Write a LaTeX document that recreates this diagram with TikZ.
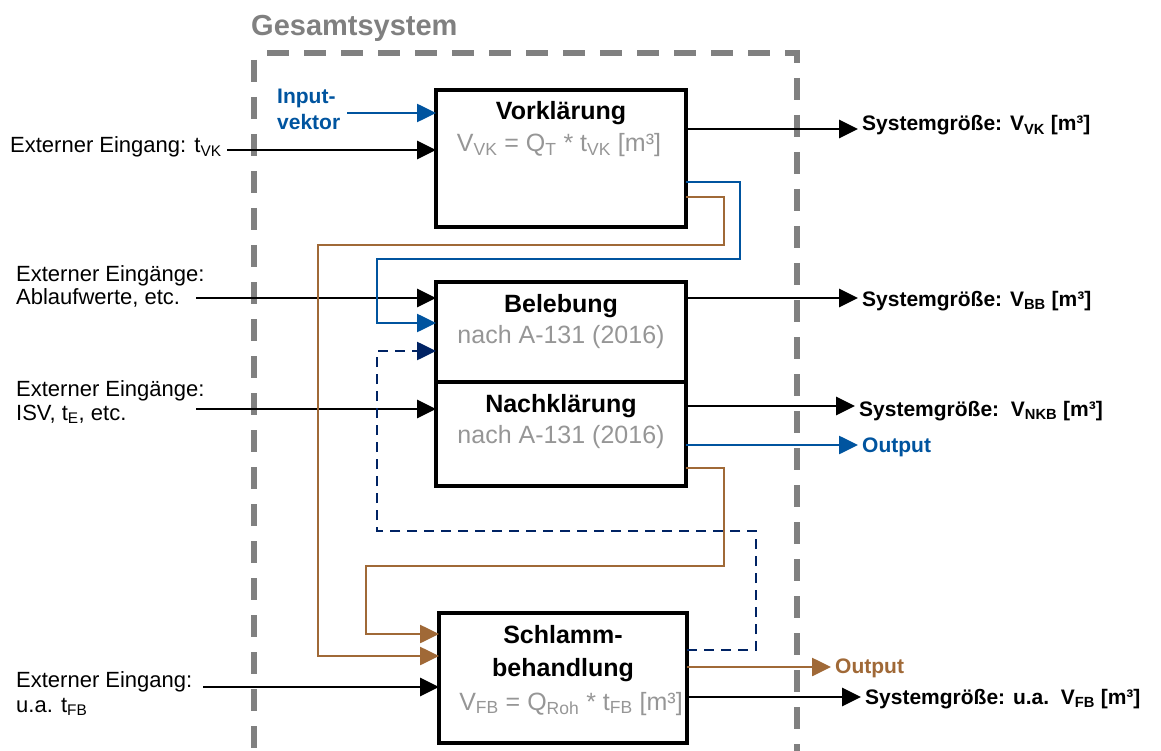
\documentclass[tikz,border=0pt]{standalone}
\usepackage{fontspec}
\setmainfont{Liberation Sans}
\usetikzlibrary{arrows.meta,calc}
\definecolor{rwthblue}{RGB}{0,84,159}
\definecolor{brn}{RGB}{160,105,55}
\definecolor{navy}{RGB}{0,35,100}
\definecolor{gtxt}{RGB}{150,150,150}
\definecolor{gborder}{RGB}{128,128,128}
\begin{document}
\begin{tikzpicture}[x=1pt,y=-1pt,
 box/.style={draw,line width=3.2pt,rectangle,outer sep=0pt,inner sep=0pt},
 lbl/.style={inner xsep=4pt,inner ysep=2pt,anchor=base west,font=\fontsize{22}{26}\selectfont},
 sys/.style={inner xsep=4pt,inner ysep=2pt,anchor=base west,font=\fontsize{21}{25}\selectfont\bfseries},
 ttl/.style={inner sep=0pt,anchor=base,font=\fontsize{25}{30}\selectfont\bfseries},
 sub/.style={inner sep=0pt,anchor=base,text=gtxt,font=\fontsize{25}{30}\selectfont},
 tip/.style={-{Triangle[length=19pt,width=18pt]}},
 blk/.style={tip,line width=2.8pt,black},
 blu/.style={tip,line width=2.6pt,rwthblue},
 brw/.style={tip,line width=2.6pt,brn},
 nvy/.style={tip,line width=2.6pt,navy,dash pattern=on 10pt off 7pt},
]
\useasboundingbox (0,0) rectangle (1161,751);
% system border
\node[anchor=base west,inner sep=0pt,text=gborder,font=\fontsize{29}{34}\selectfont\bfseries] (gs) at (251,36) {Gesamtsystem};
\draw[gborder,line width=5.5pt,dash pattern=on 22pt off 15pt] (254,60) -- (254,760);
\draw[gborder,line width=5.5pt,dash pattern=on 22pt off 15pt] (267,53) -- (797,53) -- (797,760);
% boxes
\node[box,minimum width=250pt,minimum height=137pt] (vk) at (561,158.5) {};
\node[box,minimum width=250pt,minimum height=100pt] (bb) at (561,332) {};
\node[box,minimum width=250pt,minimum height=104pt] (nk) at (561,434) {};
\node[box,minimum width=248pt,minimum height=130pt] (fb) at (563,678) {};
% box texts
\node[ttl] (vkt) at (561,120) {Vorklärung};
\node[sub] (vkf) at (559,152) {V\textsubscript{VK} = Q\textsubscript{T} * t\textsubscript{VK} [m³]};
\node[ttl] (bbt) at (561,312) {Belebung};
\node[sub] (bbs) at (561,343) {nach A-131 (2016)};
\node[ttl] (nkt) at (561,412) {Nachklärung};
\node[sub] (nks) at (561,443) {nach A-131 (2016)};
\node[ttl] (fbt1) at (563,643) {Schlamm-};
\node[ttl] (fbt2) at (563,676) {behandlung};
\node[sub] (fbf) at (571,710) {V\textsubscript{FB} = Q\textsubscript{Roh} * t\textsubscript{FB} [m³]};
% left labels
\node[lbl] (e1) at (6,153) {Externer Eingang: t\textsubscript{VK}};
\node[lbl] (e2a) at (12,281) {Externer Eingänge:};
\node[lbl] (e2b) at (12,304) {Ablaufwerte, etc.};
\node[lbl] (e3a) at (12,396) {Externer Eingänge:};
\node[lbl] (e3b) at (12,420) {ISV, t\textsubscript{E}, etc.};
\node[lbl] (e4a) at (12,687) {Externer Eingang:};
\node[lbl] (e4b) at (12,712) {u.a. t\textsubscript{FB}};
\node[inner sep=2pt,anchor=north west,align=left,text=rwthblue,font=\fontsize{21}{26}\selectfont\bfseries] (inp) at (275,87) {Input-\\vektor};
% right labels
\node[sys] (s1) at (858,131) {Systemgröße: V\textsubscript{VK} [m³]};
\node[sys] (s2) at (858,306) {Systemgröße: V\textsubscript{BB} [m³]};
\node[sys] (s3) at (855,416) {Systemgröße:\ \ V\textsubscript{NKB} [m³]};
\node[sys,text=rwthblue] (o1) at (858,452) {Output};
\node[sys,text=brn] (o2) at (831,673) {Output};
\node[sys] (s4) at (861,704) {Systemgröße: u.a.\ \ V\textsubscript{FB} [m³]};
% coordinates
\coordinate (ci) at (347,113);
\coordinate (c1) at (227,150);
\coordinate (c2) at (196,298);
\coordinate (c3) at (196,409);
\coordinate (c4) at (203,687);
\coordinate (v1) at ($(vk.north east)+(0,39)$);
\coordinate (v2) at ($(bb.north east)+(0,16)$);
\coordinate (v3) at ($(nk.north east)+(0,24)$);
\coordinate (v4) at ($(fb.north east)+(0,84)$);
\coordinate (bo) at ($(nk.north east)+(0,63)$);
\coordinate (ro) at ($(fb.north east)+(0,54)$);
% inputs
\draw[blu] (ci) -- (ci -| vk.west);
\draw[blk] (c1) -- (c1 -| vk.west);
\draw[blk] (c2) -- (c2 -| bb.west);
\draw[blk] (c3) -- (c3 -| nk.west);
\draw[blk] (c4) -- (c4 -| fb.west);
% outputs
\draw[blk] (v1) -- (v1 -| s1.west);
\draw[blk] (v2) -- (v2 -| s2.west);
\draw[blk] (v3) -- (v3 -| s3.west);
\draw[blk] (v4) -- (v4 -| s4.west);
\draw[blu] (bo) -- (bo -| o1.west);
\draw[brw] (ro) -- (ro -| o2.west);
% loops
\draw[blu] ($(vk.north east)+(0,92)$) -| (740,259) -| (377,323) -- ($(bb.north west)+(0,41)$);
\draw[brw] ($(vk.north east)+(0,107)$) -| (724,245) -| (318,656) -- ($(fb.north west)+(0,43)$);
\draw[nvy] ($(fb.north east)+(0,37)$) -| (756,531) -| (377,351) -- ($(bb.north west)+(0,69)$);
\draw[brw] ($(nk.north east)+(0,86)$) -| (724,566) -| (366,634) -- ($(fb.north west)+(0,21)$);
\end{tikzpicture}
\end{document}
